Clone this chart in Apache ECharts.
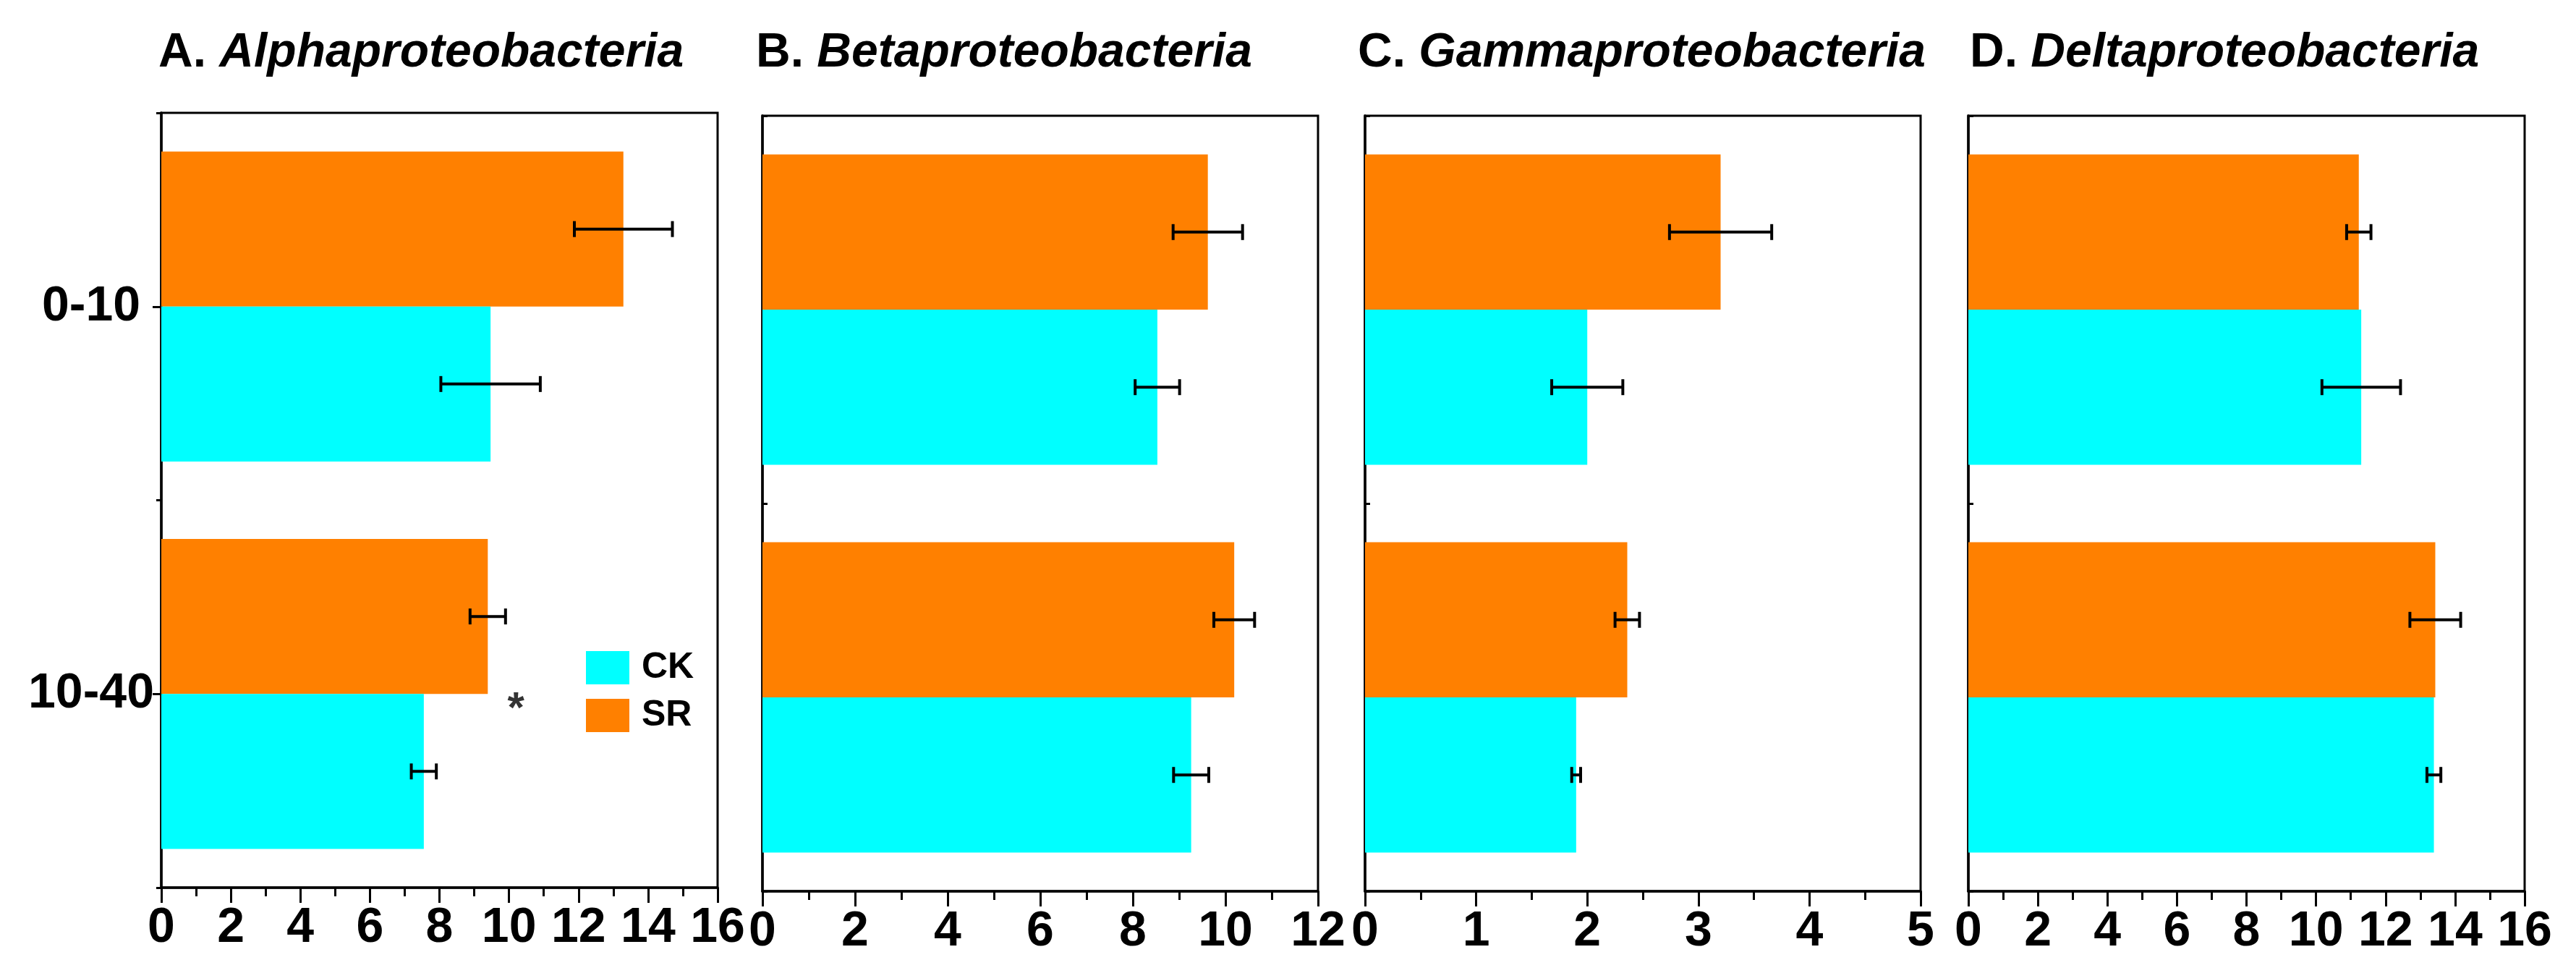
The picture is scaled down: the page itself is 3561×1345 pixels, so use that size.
<!DOCTYPE html>
<html>
<head>
<meta charset="utf-8">
<script src="https://cdn.jsdelivr.net/npm/echarts@6/dist/echarts.min.js"></script>
<style>
  html, body { margin: 0; padding: 0; background: #fff; }
  #main { width: 3561px; height: 1345px; }
</style>
</head>
<body>
<div id="main"></div>
<script>
(function(){

  // soil depth (cm)
  let depths = ['0-10', '10-40'];

  // relative abundance (%), mean and SD
  let alphaCK = [9.47, 7.55];   let alphaCKsd = [1.43, 0.36];
  let alphaSR = [13.29, 9.39];  let alphaSRsd = [1.41, 0.51];
  let betaCK  = [8.53, 9.26];   let betaCKsd  = [0.48, 0.38];
  let betaSR  = [9.62, 10.19];  let betaSRsd  = [0.75, 0.44];
  let gammaCK = [2.00, 1.90];   let gammaCKsd = [0.32, 0.04];
  let gammaSR = [3.20, 2.36];   let gammaSRsd = [0.46, 0.11];
  let deltaCK = [11.30, 13.39]; let deltaCKsd = [1.13, 0.20];
  let deltaSR = [11.23, 13.43]; let deltaSRsd = [0.35, 0.73];

  let panels = [
    { letter: 'A. ', name: 'Alphaproteobacteria', ck: alphaCK, cksd: alphaCKsd, sr: alphaSR, srsd: alphaSRsd, max: 16, step: 2 },
    { letter: 'B. ', name: 'Betaproteobacteria',  ck: betaCK,  cksd: betaCKsd,  sr: betaSR,  srsd: betaSRsd,  max: 12, step: 2 },
    { letter: 'C. ', name: 'Gammaproteobacteria', ck: gammaCK, cksd: gammaCKsd, sr: gammaSR, srsd: gammaSRsd, max: 5,  step: 1 },
    { letter: 'D. ', name: 'Deltaproteobacteria', ck: deltaCK, cksd: deltaCKsd, sr: deltaSR, srsd: deltaSRsd, max: 16, step: 2 }
  ];

  // plot boxes in pixels
  let boxes = [
    { left: 223,  top: 156, width: 769, height: 1071, titleX: 214 },
    { left: 1054, top: 160, width: 768, height: 1072, titleX: 1040 },
    { left: 1887, top: 160, width: 768, height: 1072, titleX: 1872 },
    { left: 2721, top: 160, width: 769, height: 1072, titleX: 2718 }
  ];

  let FONT = '"Liberation Sans", Arial, sans-serif';
  let CYAN = '#00FFFF', ORANGE = '#FF8000';

  function errorBars(params, api) {
    let cat = api.value(2);
    let lo = api.coord([api.value(0), cat]);
    let hi = api.coord([api.value(1), cat]);
    let band = api.size([0, 1])[1];
    let y = lo[1] + api.value(3) * band * 0.2;
    let cap = 11;
    let style = { stroke: '#000', lineWidth: 4 };
    return {
      type: 'group',
      children: [
        { type: 'line', shape: { x1: lo[0], y1: y, x2: hi[0], y2: y }, style: style },
        { type: 'line', shape: { x1: lo[0], y1: y - cap, x2: lo[0], y2: y + cap }, style: style },
        { type: 'line', shape: { x1: hi[0], y1: y - cap, x2: hi[0], y2: y + cap }, style: style }
      ]
    };
  }

  let titles = [], grids = [], xAxes = [], yAxes = [], series = [];

  panels.forEach(function (p, i) {
    let b = boxes[i];
    titles.push({
      left: b.titleX,
      top: 36,
      text: '{n|' + p.letter + '}{i|' + p.name + '}',
      textStyle: {
        rich: {
          n: { fontFamily: FONT, fontWeight: 'bold', fontSize: 66, color: '#000' },
          i: { fontFamily: FONT, fontWeight: 'bold', fontStyle: 'italic', fontSize: 66, color: '#000' }
        }
      }
    });
    grids.push({
      left: b.left, top: b.top, width: b.width, height: b.height,
      show: true, borderColor: '#000', borderWidth: 3, backgroundColor: 'transparent'
    });
    xAxes.push({
      gridIndex: i,
      type: 'value',
      min: 0, max: p.max, interval: p.step,
      axisLine: { show: true, lineStyle: { color: '#000', width: 3.5 } },
      axisTick: { show: true, length: 21, lineStyle: { color: '#000', width: 3 } },
      minorTick: { show: true, splitNumber: 2, length: 12, lineStyle: { color: '#000', width: 3 } },
      splitLine: { show: false },
      axisLabel: { color: '#000', fontFamily: FONT, fontWeight: 'bold', fontSize: 68, margin: 22, showMaxLabel: true, showMinLabel: true }
    });
    yAxes.push({
      gridIndex: i,
      type: 'category',
      data: depths,
      inverse: true,
      position: 'left',
      axisLine: { show: true, lineStyle: { color: '#000', width: 3.5 } },
      axisTick: { show: true, alignWithLabel: true, inside: i > 0, length: 12, lineStyle: { color: '#000', width: 3 } },
      axisLabel: {
        show: i === 0, color: '#000', fontFamily: FONT, fontWeight: 'bold', fontSize: 68,
        align: 'center', margin: 97
      },
      splitLine: { show: false }
    });
    // short ticks on the band edges
    yAxes.push({
      gridIndex: i,
      type: 'value',
      min: 0, max: 2, interval: 1,
      position: 'left',
      axisLine: { show: false },
      axisTick: { show: true, inside: i > 0, length: 7, lineStyle: { color: '#000', width: 3 } },
      axisLabel: { show: false },
      splitLine: { show: false }
    });

    let yIdx = i * 2;
    // SR sits above CK inside each depth band
    series.push({
      name: 'SR', type: 'bar', xAxisIndex: i, yAxisIndex: yIdx,
      data: p.sr, barGap: '0%', barCategoryGap: '20%',
      itemStyle: { color: ORANGE }, z: 2
    });
    series.push({
      name: 'CK', type: 'bar', xAxisIndex: i, yAxisIndex: yIdx,
      data: p.ck, barGap: '0%', barCategoryGap: '20%',
      itemStyle: { color: CYAN }, z: 2
    });

    let errs = [];
    depths.forEach(function (d, k) {
      errs.push([p.sr[k] - p.srsd[k], p.sr[k] + p.srsd[k], k, -1]);
      errs.push([p.ck[k] - p.cksd[k], p.ck[k] + p.cksd[k], k, 1]);
    });
    series.push({
      type: 'custom', xAxisIndex: i, yAxisIndex: yIdx,
      renderItem: errorBars,
      encode: { x: [0, 1], y: 2 },
      data: errs, z: 5, silent: true
    });
  });

  // significance mark for the 10-40 layer in panel A
  series.push({
    type: 'scatter', xAxisIndex: 0, yAxisIndex: 0,
    symbolSize: 0,
    data: [[10.2, 1]],
    label: {
      show: true, formatter: '*', position: 'inside', offset: [0, 22],
      color: '#000', fontFamily: FONT, fontWeight: 'bold', fontSize: 60
    },
    silent: true, z: 6
  });

  let chart = echarts.init(document.getElementById('main'));
  chart.setOption({
    animation: false,
    backgroundColor: '#fff',
    title: titles,
    legend: {
      data: ['CK', 'SR'],
      orient: 'vertical',
      left: 805, top: 893,
      icon: 'rect',
      itemWidth: 60, itemHeight: 46, itemGap: 16,
      textStyle: { color: '#000', fontFamily: FONT, fontWeight: 'bold', fontSize: 50, padding: [0, 0, 0, 12] }
    },
    grid: grids,
    xAxis: xAxes,
    yAxis: yAxes,
    series: series
  });

  window.addEventListener("resize", function () {
    chart.resize();
  });

})();
</script>
</body>
</html>
